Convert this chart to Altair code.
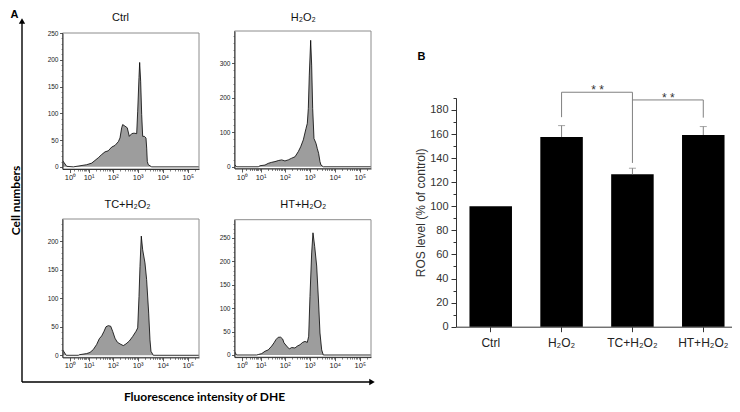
import altair as alt
import pandas as pd

W, H = 724, 396
AX_FONT = "Liberation Sans"
BOLD_FONT = "Lato"

# ---------------- Panel A: DHE fluorescence histograms (intensity, cell count) ----------------
ctrl_I = [0, 0.15, 0.47, 1.7, 4.0, 8.2, 13.6, 18.8, 25.8, 35.6, 48.6, 66, 91, 123, 168, 196, 229, 251,
          311, 383, 462, 576, 712, 912, 1000, 1127, 1200, 1314, 1444, 1583, 1844, 2145, 2288, 2420,
          2650, 3620, 280000]
ctrl_n = [12, 8, 1, 0, 2, 4, 7, 12, 17, 23, 28, 30, 37, 40, 47, 54, 73, 79,
          76, 73, 57, 62, 63, 62, 104, 167, 195, 160, 98, 57, 57, 54, 35, 10,
          4, 0, 0]

h2o2_I = [0, 0.22, 7.9, 9.4, 15.5, 21.3, 29.5, 40.3, 54.9, 75.4, 102, 139, 191, 258, 350, 436, 555,
          712, 804, 880, 964, 1096, 1200, 1317, 1486, 1785, 2011, 2273, 2577, 2826, 3490, 280000]
h2o2_n = [7, 0, 0, 3, 5, 10, 13, 15, 18, 20, 17, 20, 25, 29, 44, 58, 78,
          111, 126, 169, 266, 367, 295, 169, 82, 68, 53, 39, 15, 5, 0, 0]

tc_I = [0, 0.15, 0.4, 3.3, 3.7, 8.2, 11.5, 15.9, 22.1, 28.4, 35.6, 44.3, 53.4, 66, 82.8, 99.5, 123,
        153, 196, 266, 341, 462, 631, 855, 1000, 1127, 1236, 1392, 1583, 1956, 2273, 2748, 3098,
        3395, 4200, 280000]
tc_n = [10, 6, 0, 0, 1, 3, 5, 10, 19, 29, 34, 42, 50, 52, 51, 42, 30,
        23, 20, 17, 20, 25, 33, 42, 48, 103, 156, 209, 185, 162, 133, 74, 27,
        7, 0, 0]

ht_I = [0, 0.2, 6.7, 7.9, 11.2, 15.5, 21.3, 29.5, 36.7, 44.3, 54.9, 68.7, 82.8, 93.4, 120, 153, 191,
        258, 320, 410, 525, 649, 804, 912, 1027, 1200, 1354, 1583, 1904, 2273, 2577, 3010, 3490,
        280000]
ht_n = [8, 0, 0, 1, 3, 8, 11, 19, 26, 33, 38, 38, 34, 26, 19, 13, 16,
        15, 19, 22, 27, 29, 27, 40, 125, 218, 261, 232, 190, 111, 47, 11, 0,
        0]

hist_titles = ["Ctrl", "H₂O₂", "TC+H₂O₂", "HT+H₂O₂"]
X_MAX = 280000
x_major = [1, 10, 100, 1000, 10000, 100000]
x_minor = [m * 10 ** k for k in range(0, 6) for m in range(2, 10) if m * 10 ** k < X_MAX]
SUP = ("datum.value == 1 ? '10⁰' : datum.value == 10 ? '10¹' : datum.value == 100 ? '10²' : "
       "datum.value == 1000 ? '10³' : datum.value == 10000 ? '10⁴' : '10⁵'")

# ---------------- Panel B: ROS level bar chart ----------------
groups = ["Ctrl", "H₂O₂", "TC+H₂O₂", "HT+H₂O₂"]
ros_mean = [100, 157.5, 126.6, 159.2]
ros_err = [0, 9.5, 5.0, 7.0]
bracket_id = [1, 1, 1, 1, 2, 2, 2]
bracket_x = ["H₂O₂", "H₂O₂", "TC+H₂O₂", "TC+H₂O₂", "TC+H₂O₂", "HT+H₂O₂", "HT+H₂O₂"]
bracket_y = [174, 194.7, 194.7, 136, 188.3, 188.3, 173.6]
sig_x = ["H₂O₂", "TC+H₂O₂"]
sig_y = [193, 186.6]
sig_t = ["* *", "* *"]


def hist_panel(I, n, title, xr, yr, ydom, ymajor, yminor, tx, ty):
    df = pd.DataFrame({"I": I, "n": n})
    xs = alt.Scale(type="symlog", constant=1, domain=[0, X_MAX], range=xr, nice=False, zero=False)
    ys = alt.Scale(type="linear", domain=ydom, range=yr, nice=False, zero=False)
    xoff = yr[0] - H
    yoff = -xr[0]
    ax_x = alt.Axis(orient="bottom", offset=xoff, values=x_major, labelExpr=SUP, labelFont=AX_FONT,
                    labelFontSize=7.5, labelColor="#222", labelPadding=1, labelFlush=False,
                    labelOverlap=False, tickSize=3.5, tickColor="#333", tickWidth=0.8,
                    domainColor="#333", domainWidth=1, title=None, grid=False, zindex=1)
    ax_xm = alt.Axis(orient="bottom", offset=xoff, values=x_minor, labels=False, domain=False,
                     tickSize=2, tickColor="#333", tickWidth=0.6, title=None, grid=False, zindex=1)
    ax_y = alt.Axis(orient="left", offset=yoff, values=ymajor, labelFont=AX_FONT, labelFontSize=6.5,
                    labelColor="#222", labelPadding=1.5, labelOverlap=False, tickSize=3,
                    tickColor="#333", tickWidth=0.8, domainColor="#333", domainWidth=1,
                    title=None, grid=False, zindex=1)
    ax_ym = alt.Axis(orient="left", offset=yoff, values=yminor, labels=False, domain=False,
                     tickSize=1.5, tickColor="#444", tickWidth=0.6, title=None, grid=False, zindex=1)
    ax_t = alt.Axis(orient="top", offset=0, domain=False, ticks=False, labels=False, grid=False,
                    title=title, titleX=tx, titleY=ty, titleAngle=0, titleAlign="center",
                    titleBaseline="middle", titleFont=AX_FONT, titleFontSize=11,
                    titleFontWeight="normal", titleColor="#111")
    fill = alt.Chart(df).mark_area(color="#9d9d9d", opacity=1).encode(
        x=alt.X("I:Q", scale=xs, axis=ax_x),
        y=alt.Y("n:Q", scale=ys, axis=ax_y),
        y2=alt.datum(0),
    )
    outline = alt.Chart(df).mark_line(color="black", strokeWidth=0.8).encode(
        x=alt.X("I:Q", scale=xs, axis=ax_xm),
        y=alt.Y("n:Q", scale=ys, axis=ax_ym),
    )
    box_df = pd.DataFrame({"x0": [0], "x1": [X_MAX], "y0": [ydom[0]], "y1": [ydom[1]]})
    box = alt.Chart(box_df).mark_rect(filled=False, color="#8c8c8c", strokeWidth=1).encode(
        x=alt.X("x0:Q", scale=xs, axis=ax_t),
        x2=alt.X2("x1"),
        y=alt.Y("y0:Q", scale=ys, axis=None),
        y2=alt.Y2("y1"),
    )
    return alt.layer(fill, outline, box).resolve_axis(x="independent", y="independent")


p_ctrl = hist_panel(ctrl_I, ctrl_n, hist_titles[0], [54.5, 191], [161, 25], [-4, 250],
                    [0, 50, 100, 150, 200, 250], list(range(0, 251, 10)), 112, 9)
p_h2o2 = hist_panel(h2o2_I, h2o2_n, hist_titles[1], [226.5, 363], [160.5, 23], [-5, 394],
                    [0, 100, 200, 300], list(range(0, 381, 20)), 294.7, 9)
p_tc = hist_panel(tc_I, tc_n, hist_titles[2], [54.5, 191], [349.4, 211], [-3.7, 239],
                  [0, 50, 100, 150, 200], list(range(0, 231, 10)), 119, 196.5)
p_ht = hist_panel(ht_I, ht_n, hist_titles[3], [226.5, 363], [349.1, 211.7], [-4.5, 289],
                  [0, 50, 100, 150, 200, 250], list(range(0, 281, 10)), 294.8, 196)

# ---------------- Panel A frame: arrows and shared axis titles ----------------
fx = alt.Scale(domain=[0, 1], range=[14, 364], nice=False, zero=False)
fy = alt.Scale(domain=[0, 1], range=[374, 13], nice=False, zero=False)
arrow_df = pd.DataFrame({"x": [0, 0], "x2": [1, 0], "y": [0, 0], "y2": [0, 1]})
head_df = pd.DataFrame({"x": [1, 0], "y": [0, 1], "s": ["triangle-right", "triangle-up"]})

arrows = alt.Chart(arrow_df).mark_rule(color="black", strokeWidth=1.4).encode(
    x=alt.X("x:Q", scale=fx, axis=alt.Axis(
        orient="bottom", offset=374 - H, domain=False, ticks=False, labels=False, grid=False,
        title="Fluorescence intensity of DHE", titleX=196, titleY=14, titleAlign="center",
        titleBaseline="middle", titleFont=BOLD_FONT, titleFontSize=12, titleFontWeight="bold",
        titleColor="black")),
    x2=alt.X2("x2"),
    y=alt.Y("y:Q", scale=fy, axis=alt.Axis(
        orient="left", offset=-14, domain=False, ticks=False, labels=False, grid=False,
        title="Cell numbers", titleX=-7, titleY=192, titleAngle=-90, titleAlign="center",
        titleBaseline="middle", titleFont=BOLD_FONT, titleFontSize=12, titleFontWeight="bold",
        titleColor="black")),
    y2=alt.Y2("y2"),
)
heads = alt.Chart(head_df).mark_point(filled=True, color="black", size=40, opacity=1).encode(
    x=alt.X("x:Q", scale=fx, axis=alt.Axis(
        orient="top", offset=0, domain=False, ticks=False, labels=False, grid=False,
        title="A", titleX=6, titleY=6.5, titleAngle=0, titleAlign="center", titleBaseline="middle",
        titleFont=AX_FONT, titleFontSize=11, titleFontWeight="bold", titleColor="black")),
    y=alt.Y("y:Q", scale=fy, axis=None),
    shape=alt.Shape("s:N", scale=None),
)
frame_layer = alt.layer(arrows, heads).resolve_axis(x="independent", y="independent")

# ---------------- Panel B layers ----------------
bx = alt.Scale(domain=groups, range=[448, 730], paddingInner=0.4, paddingOuter=0.19)
by = alt.Scale(domain=[0, 190], range=[318.7, 89.9], nice=False, zero=False)
bar_df = pd.DataFrame({"g": groups, "m": ros_mean, "e": ros_err})

bars = alt.Chart(bar_df).mark_bar(color="black").encode(
    x=alt.X("g:N", scale=bx, sort=groups, axis=alt.Axis(
        orient="bottom", offset=318.7 - H, labelAngle=0, labelFont=AX_FONT, labelFontSize=12,
        labelColor="#222", labelPadding=6, tickSize=5, tickColor="#333", domainColor="#333",
        title=None, grid=False)),
    y=alt.Y("m:Q", scale=by, axis=alt.Axis(
        orient="left", offset=-448, values=list(range(0, 181, 20)), labelFont=AX_FONT,
        labelFontSize=11, labelColor="#333", labelPadding=3, tickSize=5, tickColor="#333",
        domainColor="#333", title="ROS level (% of control)", titleFont=AX_FONT, titleFontSize=12,
        titleFontWeight="normal", titleColor="#333", titlePadding=2, grid=False)),
)
err = alt.Chart(bar_df).transform_filter("datum.e > 0").transform_calculate(
    top="datum.m + datum.e").mark_rule(color="#808080", strokeWidth=1).encode(
    x=alt.X("g:N", scale=bx, sort=groups, axis=alt.Axis(
        orient="top", offset=0, domain=False, ticks=False, labels=False, grid=False, title="B",
        titleX=413, titleY=48.7, titleAngle=0, titleAlign="center", titleBaseline="middle",
        titleFont=AX_FONT, titleFontSize=11, titleFontWeight="bold", titleColor="black")),
    y=alt.Y("m:Q", scale=by, axis=alt.Axis(
        orient="left", offset=-448, values=list(range(10, 191, 20)), labels=False, domain=False,
        tickSize=3, tickColor="#333", title=None, grid=False)),
    y2=alt.Y2("top"),
)
caps = alt.Chart(bar_df).transform_filter("datum.e > 0").transform_calculate(
    top="datum.m + datum.e").mark_tick(color="#808080", thickness=1, size=7).encode(
    x=alt.X("g:N", scale=bx, sort=groups, axis=None),
    y=alt.Y("top:Q", scale=by, axis=None),
)
br_df = pd.DataFrame({"id": bracket_id, "i": list(range(len(bracket_x))), "x": bracket_x, "y": bracket_y})
brackets = alt.Chart(br_df).mark_line(color="#808080", strokeWidth=1).encode(
    x=alt.X("x:N", scale=bx, sort=groups, axis=None),
    y=alt.Y("y:Q", scale=by, axis=None),
    detail="id:N",
    order="i:Q",
)
sig_df = pd.DataFrame({"x": sig_x, "y": sig_y, "t": sig_t})
sig = alt.Chart(sig_df).mark_text(fontSize=12, dx=36, baseline="alphabetic", color="#333",
                                  font=AX_FONT).encode(
    x=alt.X("x:N", scale=bx, sort=groups, axis=None),
    y=alt.Y("y:Q", scale=by, axis=None),
    text="t:N",
)
bar_layer = alt.layer(bars, err, caps, brackets, sig).resolve_axis(x="independent", y="independent")

chart = alt.layer(frame_layer, p_ctrl, p_h2o2, p_tc, p_ht, bar_layer).resolve_scale(
    x="independent", y="independent"
).properties(
    width=W, height=H, autosize=alt.AutoSizeParams(type="none"), padding=0
).configure_view(stroke=None)

chart.save("out.html", embed_options={"renderer": "svg", "actions": False})
